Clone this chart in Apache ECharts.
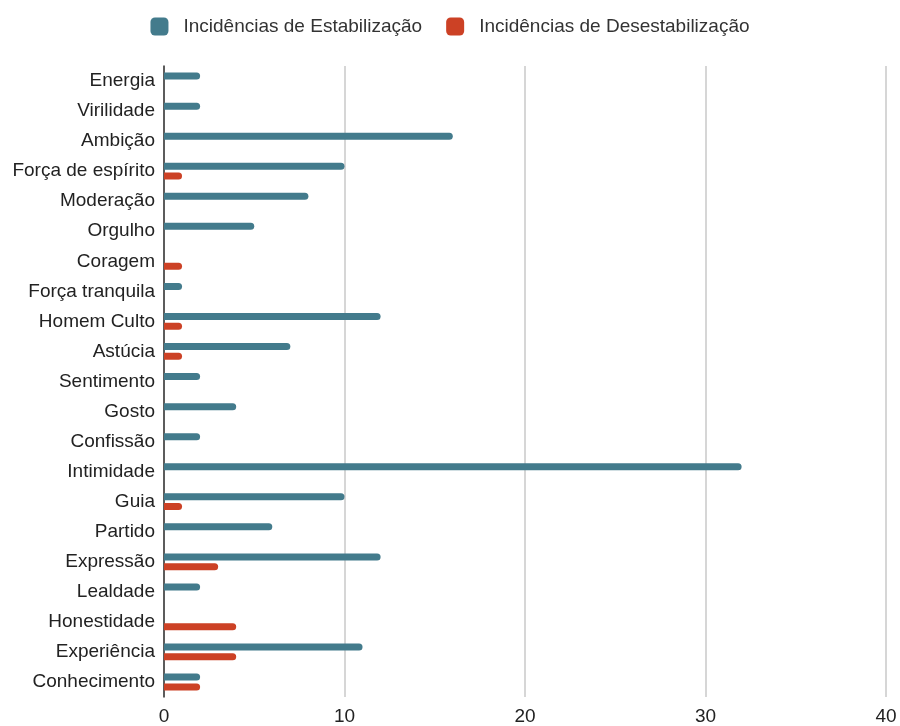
<!DOCTYPE html>
<html>
<head>
<meta charset="utf-8">
<script src="https://cdn.jsdelivr.net/npm/echarts@6/dist/echarts.min.js"></script>
<style>html,body{margin:0;padding:0;background:#fff}#chart{width:900px;height:726px}</style>
</head>
<body>
<div id="chart"></div>
<script>
// Categories, top to bottom
const categories = ['Energia', 'Virilidade', 'Ambição', 'Força de espírito', 'Moderação', 'Orgulho', 'Coragem', 'Força tranquila', 'Homem Culto', 'Astúcia', 'Sentimento', 'Gosto', 'Confissão', 'Intimidade', 'Guia', 'Partido', 'Expressão', 'Lealdade', 'Honestidade', 'Experiência', 'Conhecimento'];
const estabilizacao = [2, 2, 16, 10, 8, 5, 0, 1, 12, 7, 2, 4, 2, 32, 10, 6, 12, 2, 0, 11, 2];
const desestabilizacao = [0, 0, 0, 1, 0, 0, 1, 0, 1, 1, 0, 0, 0, 0, 1, 0, 3, 0, 4, 4, 2];
const seriesNames = ['Incidências de Estabilização', 'Incidências de Desestabilização'];

const chart = echarts.init(document.getElementById('chart'));
const font = '"Liberation Sans", Arial, sans-serif';
chart.setOption({
  animation: false,
  textStyle: { fontFamily: font },
  legend: {
    top: 12, left: 'center', itemWidth: 18, itemHeight: 18, itemGap: 24,
    icon: 'roundRect',
    textStyle: { fontSize: 19, color: '#333', fontFamily: font, padding: [0, 0, 0, 10] }
  },
  grid: { left: 164, right: 14, top: 66, height: 635, containLabel: false },
  xAxis: {
    type: 'value', min: 0, max: 40, interval: 10,
    axisLine: { show: false }, axisTick: { show: false },
    splitLine: { lineStyle: { color: '#c8c8c8', width: 1.5 } },
    axisLabel: { fontSize: 19, color: '#222', margin: 10, fontFamily: font }
  },
  yAxis: {
    type: 'category', data: categories, inverse: true,
    axisLine: { show: true, lineStyle: { color: '#333', width: 1.5 } },
    axisTick: { show: false },
    axisLabel: { fontSize: 19, color: '#222', margin: 9, fontFamily: font }
  },
  series: [
    { name: seriesNames[0], type: 'bar', data: estabilizacao, barWidth: 7, barGap: '40%',
      itemStyle: { color: '#437b8c', borderRadius: [0, 4, 4, 0] } },
    { name: seriesNames[1], type: 'bar', data: desestabilizacao, barWidth: 7,
      itemStyle: { color: '#cc4125', borderRadius: [0, 4, 4, 0] } }
  ]
});
</script>
</body>
</html>
